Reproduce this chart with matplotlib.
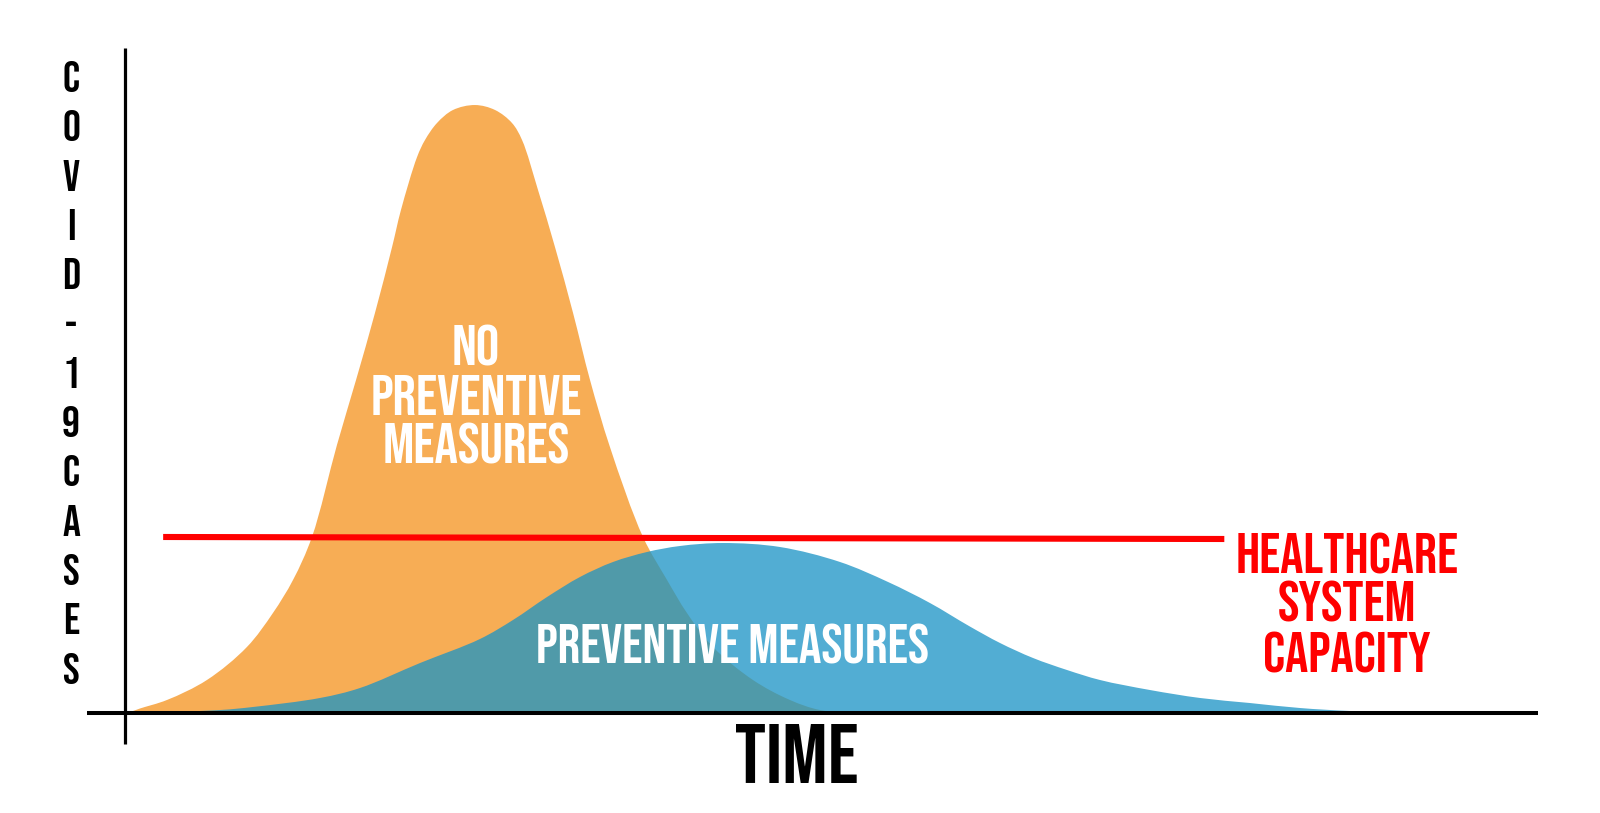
import matplotlib
matplotlib.use("Agg")
import matplotlib.pyplot as plt
from matplotlib.path import Path
from matplotlib.patches import PathPatch
import numpy as np

# ---------------- data ----------------
# Time axis 0..100, cases axis where the unmitigated peak = 100
no_prev_t = [0.00, 0.35, 1.06, 2.97, 5.80, 8.63, 10.47, 11.89, 13.23, 15.00,
             16.35, 17.69, 18.90, 19.53, 20.67, 21.23, 22.08, 23.21, 24.77,
             26.19, 27.39, 28.10, 29.23, 30.43, 31.71, 32.91, 34.32, 36.66,
             38.36, 39.77, 41.61, 44.44, 47.06, 49.19, 52.02]
no_prev_v = [0.00, 0.16, 0.74, 2.14, 5.43, 10.86, 16.45, 21.88, 28.95, 44.08,
             54.77, 65.79, 76.64, 82.73, 91.45, 94.24, 97.04, 99.18, 100.0,
             99.18, 97.04, 94.24, 86.02, 76.64, 65.79, 54.77, 43.75, 28.95,
             21.88, 16.45, 10.86, 5.43, 2.14, 0.49, 0.00]

prev_t = [0.00, 6.72, 9.06, 13.80, 16.63, 20.88, 25.12, 27.46, 29.87, 32.20, 34.54,
          36.94, 39.28, 42.32, 46.36, 50.60, 54.00, 56.97, 59.73, 61.93, 64.26,
          66.67, 69.00, 72.54, 76.08, 79.62, 83.16, 86.70, 91.44, 93.77]
prev_v = [0.00, 0.49, 0.99, 2.47, 4.11, 8.22, 12.17, 15.30, 19.08, 22.37, 24.84,
          26.48, 27.47, 27.96, 27.30, 24.84, 21.55, 18.09, 14.31, 11.51, 9.05,
          7.07, 5.43, 3.78, 2.47, 1.64, 0.82, 0.33, 0.08, 0.00]

capacity_t = [2.7, 77.8]
capacity_v = [28.95, 28.62]

y_label = "COVID-19 CASES"
x_label = "TIME"
no_prev_label = ["NO", "PREVENTIVE", "MEASURES"]
prev_label = "PREVENTIVE MEASURES"
capacity_label = ["HEALTHCARE", "SYSTEM", "CAPACITY"]

# ---------------- styling ----------------
W, H = 1600, 813
FONT = "Bebas Neue"
ORANGE = "#F7AD55"
BLUE = "#1B94C5"
RED = "#FF0000"

fig = plt.figure(figsize=(W / 100, H / 100), dpi=100)
fig.patch.set_facecolor("white")


def fx(px):
    return px / W


def fy(py):
    return 1 - py / H


ax = fig.add_axes([fx(125), fy(713), (1538 - 125) / W, (713 - 48) / H])
ax.set_xlim(0, 100)
ax.set_ylim(0, 109.38)
ax.axis("off")


def smooth_area_path(ts, vs, alpha=0.5):
    """Closed area path under a centripetal Catmull-Rom curve through the points
    (the spline is built in display space, then mapped back to data space)."""
    data = np.column_stack([ts, vs]).astype(float)
    p = ax.transData.transform(data)
    n = len(p)
    ext = np.vstack([2 * p[0] - p[1], p, 2 * p[-1] - p[-2]])
    out = [p[0]]
    codes = [Path.LINETO]
    for i in range(n - 1):
        p0, p1, p2, p3 = ext[i], ext[i + 1], ext[i + 2], ext[i + 3]
        d0 = max(np.linalg.norm(p1 - p0) ** alpha, 1e-6)
        d1 = max(np.linalg.norm(p2 - p1) ** alpha, 1e-6)
        d2 = max(np.linalg.norm(p3 - p2) ** alpha, 1e-6)
        m1 = (p1 - p0) / d0 - (p2 - p0) / (d0 + d1) + (p2 - p1) / d1
        m2 = (p2 - p1) / d1 - (p3 - p1) / (d1 + d2) + (p3 - p2) / d2
        c1 = p1 + m1 * d1 / 3.0
        c2 = p2 - m2 * d1 / 3.0
        out += [c1, c2, p2]
        codes += [Path.CURVE4] * 3
    curve = ax.transData.inverted().transform(np.array(out))
    curve[:, 1] = np.maximum(curve[:, 1], 0.0)
    verts = [(ts[0], 0.0)] + [tuple(c) for c in curve] + [(ts[-1], 0.0), (ts[0], 0.0)]
    codes = [Path.MOVETO] + codes + [Path.LINETO, Path.CLOSEPOLY]
    return Path(verts, codes)


ax.add_patch(PathPatch(smooth_area_path(no_prev_t, no_prev_v), facecolor=ORANGE,
                       edgecolor="none", zorder=1))
ax.add_patch(PathPatch(smooth_area_path(prev_t, prev_v), facecolor=BLUE, alpha=0.76,
                       edgecolor="none", zorder=2))
ax.plot(capacity_t, capacity_v, color=RED, lw=4.4, solid_capstyle="butt", zorder=3)

# axis lines
ax.plot([0, 0], [-0.0466, 1.0], transform=ax.transAxes, color="black", lw=2.3,
        clip_on=False, solid_capstyle="butt", zorder=5)
ax.plot([-0.0269, 1.0], [0, 0], transform=ax.transAxes, color="black", lw=2.9,
        clip_on=False, solid_capstyle="butt", zorder=5)

# curve labels (baseline positions in pixels)
for txt, base in zip(no_prev_label, [365, 415, 463]):
    fig.text(fx(476), fy(base), txt, family=FONT, fontsize=42, color="white",
             ha="center", va="baseline", zorder=6)
fig.text(fx(732), fy(663), prev_label, family=FONT, fontsize=40.5, color="white",
         ha="center", va="baseline", zorder=6)
for txt, base in zip(capacity_label, [573, 622, 672]):
    fig.text(fx(1347), fy(base), txt, family=FONT, fontsize=41.5, color=RED,
             ha="center", va="baseline", zorder=6)

# axis titles
fig.text(fx(797), fy(783), x_label, family=FONT, fontsize=61, color="black",
         ha="center", va="baseline")
letters = [c for c in y_label if c != " "]
for i, ch in enumerate(letters):
    fig.text(fx(71), fy(92 + i * 49.3), ch, family=FONT, fontsize=32, color="black",
             ha="center", va="baseline")

fig.savefig("out.png", dpi=100, facecolor="white")
